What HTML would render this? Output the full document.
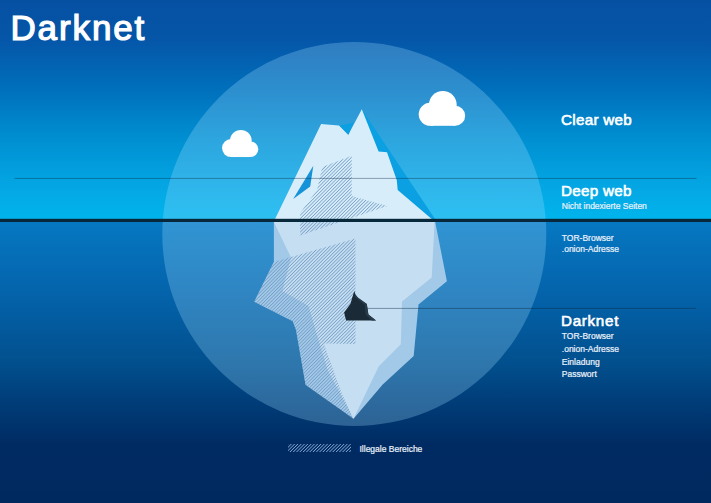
<!DOCTYPE html>
<html><head><meta charset="utf-8">
<style>
html,body{margin:0;padding:0;background:#002a62;}
body{width:711px;height:503px;overflow:hidden;position:relative;}
svg{display:block;position:absolute;left:0;top:0;}
text{font-family:"Liberation Sans",sans-serif;}
</style></head>
<body>
<svg width="711" height="503" viewBox="0 0 711 503">
<defs>
  <linearGradient id="sky" x1="0" y1="0" x2="0" y2="219" gradientUnits="userSpaceOnUse">
    <stop offset="0" stop-color="#0650a2"/>
    <stop offset="0.18" stop-color="#0556a8"/>
    <stop offset="0.41" stop-color="#0070bc"/>
    <stop offset="0.64" stop-color="#0090d2"/>
    <stop offset="0.89" stop-color="#04aae6"/>
    <stop offset="1" stop-color="#00b4ec"/>
  </linearGradient>
  <linearGradient id="sea" x1="0" y1="222" x2="0" y2="503" gradientUnits="userSpaceOnUse">
    <stop offset="0" stop-color="#0678c2"/>
    <stop offset="0.242" stop-color="#0464ac"/>
    <stop offset="0.498" stop-color="#02508e"/>
    <stop offset="0.633" stop-color="#003e7a"/>
    <stop offset="0.79" stop-color="#002b62"/>
    <stop offset="1" stop-color="#00295f"/>
  </linearGradient>
  <pattern id="hatch" width="2.38" height="10" patternUnits="userSpaceOnUse" patternTransform="rotate(45)">
    <rect x="0" y="0" width="0.7" height="10" fill="#6f99c2"/>
  </pattern>
  <pattern id="hatchL" width="2.33" height="10" patternUnits="userSpaceOnUse" patternTransform="rotate(45)">
    <rect x="0" y="0" width="0.75" height="10" fill="#86a6d4"/>
  </pattern>
  <clipPath id="ice">
    <polygon points="321.1,124.1 339,125.6 348.3,134.8 361.8,109.3 435,219 435.2,222 446.9,281.2 418.5,304.5 413.7,356 382.7,384.4 353.5,418.7 305.5,384.7 296,330 292.7,321.2 254.2,301.7 273.9,261.7 273.9,222 275,219"/>
  </clipPath>
</defs>

<!-- background -->
<rect x="0" y="0" width="711" height="220" fill="url(#sky)"/>
<rect x="0" y="220" width="711" height="283" fill="url(#sea)"/>

<!-- circle -->
<circle cx="354.3" cy="234" r="192" fill="#a0e0ff" fill-opacity="0.28"/>

<!-- iceberg above water -->
<polygon points="361.8,109.3 435,219 275,219 321.1,124.1 339,125.6 348.3,134.8" fill="#0aa0e2"/>
<polygon points="321.1,124.1 339,125.6 348.3,134.8 361.8,109.3 378.6,151.6 387,152.2 396.8,180.3 397.7,190.1 431.7,219 275,219" fill="#d8edfa"/>
<polygon points="339.5,125.6 348.3,134.8 353.4,122.8" fill="#0aa0e2"/>
<polygon points="313.3,165.8 310.2,186.5 293.2,199" fill="#1592d8"/>

<!-- iceberg below water -->
<polygon points="273.9,222 435.2,222 446.9,281.2 418.5,304.5 413.7,356 382.7,384.4 353.5,418.7 305.5,384.7 296,330 292.7,321.2 254.2,301.7 273.9,261.7" fill="#a3c9e8"/>
<polygon points="273.9,222 434.6,222 431.7,277.6 402,301.6 400.8,344.3 378.8,366.3 353.5,418.7 339.7,392.5 327.9,370.5 316.9,335 308.6,306.1 282.4,291 291,257.5" fill="#c6def1"/>
<g clip-path="url(#ice)">
<polygon points="322.3,167 351.7,155.8 351.7,196 387.3,206.1 300.2,235.6 300.2,213 317,190" fill="url(#hatch)"/>
<polygon points="355.5,238.4 355.5,344 323.7,343.5 342,394 353.5,418.7 300,420 240,300 273.9,262" fill="url(#hatch)"/>
</g>

<!-- rock -->
<polygon points="354.3,291 352.1,298.1 350.5,303.7 344.1,312.4 346.1,320.5 376,320.5 368.4,314.4 366.8,304.1 358,297.7 355.7,295" fill="#1a2a36"/>
<polygon points="355.7,295 358,297.7 366.8,304.1 368.4,314.4 376,320.5 371.6,320.5 365.6,314.4 364.8,304.9 354.9,296.9" fill="#283b4a"/>

<!-- waterline -->
<rect x="0" y="218.8" width="711" height="3.2" fill="#06283a"/>

<!-- thin lines -->
<rect x="14.5" y="177.9" width="682" height="1" fill="#0c2a44" fill-opacity="0.4"/>
<rect x="367.5" y="307.9" width="328.5" height="1" fill="#0c2a44" fill-opacity="0.45"/>

<!-- clouds -->
<g fill="#ffffff">
  <g transform="translate(418.4,91)">
    <circle cx="24.4" cy="13.9" r="13.9"/><circle cx="11.8" cy="23.3" r="11.5"/><circle cx="36.8" cy="24.8" r="10"/><rect x="11.8" y="20" width="25" height="14.8"/>
  </g>
  <g transform="translate(221.8,129.9) scale(0.78)">
    <circle cx="24.4" cy="13.9" r="13.9"/><circle cx="11.8" cy="23.3" r="11.5"/><circle cx="36.8" cy="24.8" r="10"/><rect x="11.8" y="20" width="25" height="14.8"/>
  </g>
</g>

<!-- texts -->
<text x="10.4" y="39.6" font-size="35" fill="#ffffff" stroke="#ffffff" stroke-width="1.2" letter-spacing="1.9">Darknet</text>
<g fill="#ffffff" stroke="#ffffff" stroke-width="0.6" font-size="15.2" letter-spacing="0.3">
  <text x="561" y="124.8">Clear web</text>
  <text x="561" y="195.5">Deep web</text>
  <text x="561" y="326.2" letter-spacing="0.7">Darknet</text>
</g>
<g fill="#eaf1fa" stroke="#eaf1fa" stroke-width="0.22" font-size="8.5">
  <text x="561.8" y="208.8">Nicht indexierte Seiten</text>
  <text x="561.8" y="240.9">TOR-Browser</text>
  <text x="561.8" y="251.9">.onion-Adresse</text>
  <text x="561.8" y="339.2">TOR-Browser</text>
  <text x="561.8" y="351.8">.onion-Adresse</text>
  <text x="561.8" y="364.5">Einladung</text>
  <text x="561.8" y="376.8">Passwort</text>
  <text x="359.5" y="451.7">Illegale Bereiche</text>
</g>

<!-- legend -->
<rect x="288" y="444" width="63" height="8" fill="url(#hatchL)"/>
</svg>
</body></html>
